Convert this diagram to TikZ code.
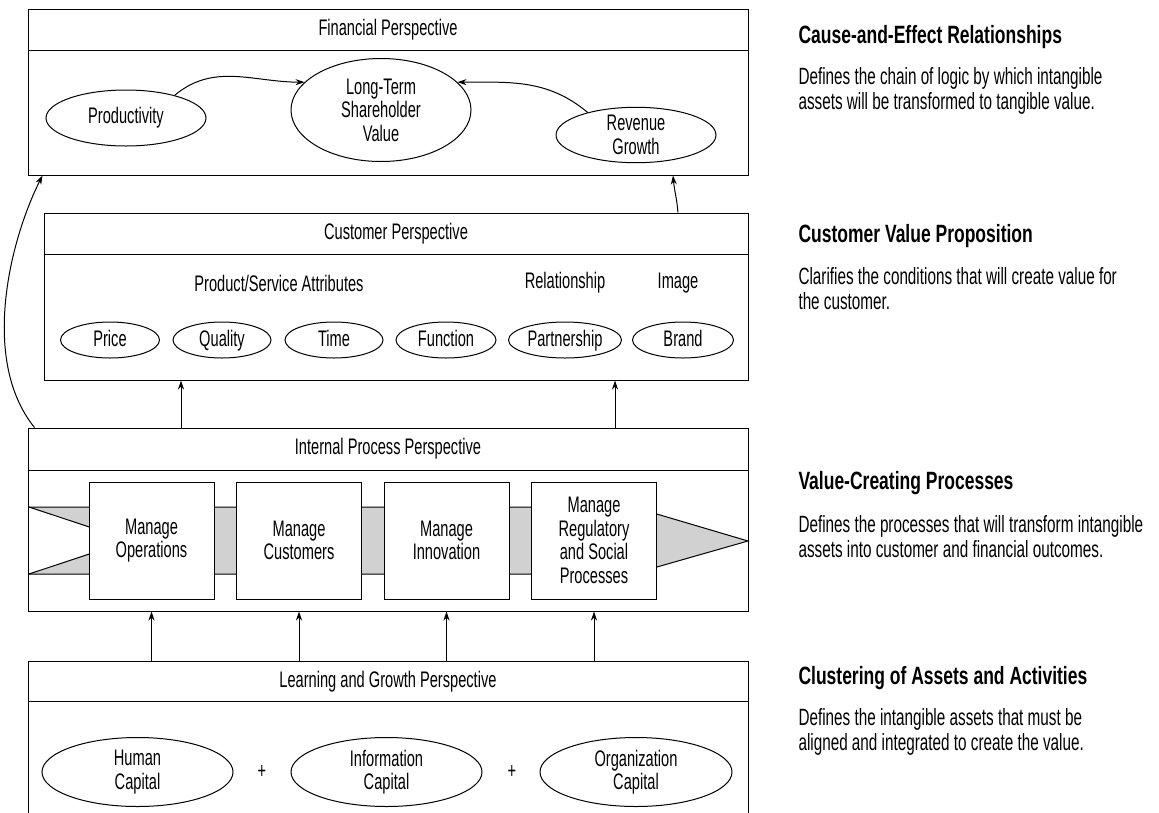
\documentclass[tikz,border=0pt]{standalone}
\usepackage{fontspec}
\setmainfont{Liberation Sans}[FakeStretch=0.65]
\newfontfamily\headfont{Liberation Sans Bold}[FakeStretch=0.7]
\usepackage{tikz}
\usetikzlibrary{arrows.meta,shapes.geometric}

\begin{document}
\begin{tikzpicture}[x=1pt,y=-1pt,line width=1pt,
    every node/.style={font=\fontsize{22.5}{23.5}\selectfont,inner sep=0pt},
    panel/.style={draw,minimum width=720pt},
    oval/.style={ellipse,draw,align=center},
    procbox/.style={draw,fill=white,align=center,minimum width=125pt,minimum height=117pt},
    arr/.style={-{Stealth[length=9pt,width=6pt]}},
    head/.style={anchor=west,font=\fontsize{25}{25}\headfont},
    note/.style={anchor=west,align=left,font=\fontsize{23.5}{25}\selectfont}]

    \useasboundingbox (0,0) rectangle (1159,812);

    % The four perspective panels
    \node[panel,minimum height=166pt] (fin) at (388,92) {};
    \node[panel,minimum width=704pt,minimum height=167pt] (cust) at (396,296.5) {};
    \node[panel,minimum height=183pt] (intp) at (388,519.5) {};
    \node[panel,minimum height=153pt] (lrn) at (388,737.5) {};

    % Header lines and titles
    \foreach \p/\d in {fin/42,cust/42,intp/43,lrn/41} {
      \draw ([yshift=-\d pt]\p.north west) -- ([yshift=-\d pt]\p.north east);
    }
    \node (fint) at (388,30) {Financial Perspective};
    \node (custt) at (396,234) {Customer Perspective};
    \node (intpt) at (388,449) {Internal Process Perspective};
    \node (lrnt) at (388,682) {Learning and Growth Perspective};

    % Financial perspective
    \node[oval,minimum width=160pt,minimum height=56pt] (prod) at (126,118) {Productivity};
    \node[oval,minimum width=180pt,minimum height=103pt] (ltsv) at (381,110) {Long-Term\\Shareholder\\Value};
    \node[oval,minimum width=160pt,minimum height=55pt] (rev) at (636,135) {Revenue\\Growth};
    \draw[arr] (prod.25) to[out=40,in=180] (ltsv.160);
    \draw[arr] (rev.155) to[out=140,in=0] (ltsv.20);

    % Customer perspective
    \node (attr) at (279,283) {Product/Service Attributes};
    \node (rel) at (565,283) {Relationship};
    \node (img) at (678,283) {Image};
    \foreach \n/\x/\w/\t in {price/110/99/Price, qual/222/98/Quality, time/334/98/Time,
        func/446/100/Function, part/565/113/Partnership, brand/683/101/Brand} {
      \node[oval,minimum width=\w pt,minimum height=36pt,text height=16pt,text depth=4pt] (\n) at (\x,340) {\t};
    }

    % Internal process perspective: the grey chevron arrow
    \fill[black!18] (29,507) -- (650,507) -- (650,512) -- (748,541) -- (650,569)
      -- (650,574) -- (29,574) -- (130,540.5) -- cycle;
    \draw (29,507) -- (650,507) (650,512) -- (748,541) -- (650,569) (650,574) -- (29,574);
    \draw (29,507) -- (130,540.5) -- (29,574);

    \node[procbox] (mops) at (151.5,540.5) {Manage\\Operations};
    \node[procbox] (mcus) at (299,540.5) {Manage\\Customers};
    \node[procbox] (minn) at (446.5,540.5) {Manage\\Innovation};
    \node[procbox] (mreg) at (594,540.5) {Manage\\Regulatory\\and Social\\Processes};

    % Learning and growth perspective
    \node[oval,minimum width=191pt,minimum height=69pt] (hum) at (137.5,772) {Human\\Capital};
    \node[oval,minimum width=191pt,minimum height=69pt] (info) at (386.5,772) {Information\\Capital};
    \node[oval,minimum width=192pt,minimum height=69pt] (org) at (636,772) {Organization\\Capital};
    \node (plus1) at (262,772) {+};
    \node (plus2) at (512,772) {+};

    % Links between the perspectives
    \foreach \b in {mops,mcus,minn,mreg} {
      \draw[arr] (lrn.north -| \b) -- (intp.south -| \b);
    }
    \coordinate (up1) at (181,400);
    \coordinate (up2) at (615,400);
    \foreach \c in {up1,up2} {
      \draw[arr] (intp.north -| \c) -- (cust.south -| \c);
    }
    \draw[arr] ([xshift=7pt]intp.north west) .. controls (-20,360) and (10,240)
      .. ([xshift=15pt]fin.south west);
    \draw[arr] (cust.north -| img) to[out=95,in=-85] ([xshift=-5pt]fin.south -| img);

    % Notes on the right
    \node[head] (h1) at (798,37) {Cause-and-Effect Relationships};
    \node[note] (n1) at (798,91) {Defines the chain of logic by which intangible\\assets will be transformed to tangible value.};
    \node[head] (h2) at (798,236) {Customer Value Proposition};
    \node[note] (n2) at (798,289) {Clarifies the conditions that will create value for\\the customer.};
    \node[head] (h3) at (798,483) {Value-Creating Processes};
    \node[note] (n3) at (798,537) {Defines the processes that will transform intangible\\assets into customer and financial outcomes.};
    \node[head] (h4) at (798,678) {Clustering of Assets and Activities};
    \node[note] (n4) at (798,732) {Defines the intangible assets that must be\\aligned and integrated to create the value.};

  \end{tikzpicture}
\end{document}
